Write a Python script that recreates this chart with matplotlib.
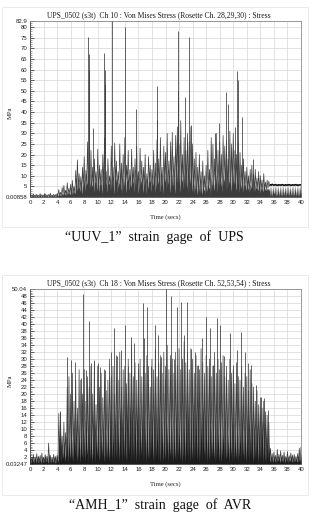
import numpy as np
import matplotlib
matplotlib.use("Agg")
import matplotlib.pyplot as plt
from matplotlib.patches import Rectangle

# ---------------- data: top chart (UUV_1, Ch 10) ----------------
top_title = "UPS_0502 (s3t)  Ch 10 : Von Mises Stress (Rosette Ch. 28,29,30) : Stress"
top_caption = "\u201cUUV_1\u201d  strain  gage  of  UPS"
top_ymin, top_ymax = 0.00858, 82.9
top_yticks = [0.00858, 5, 10, 15, 20, 25, 30, 35, 40, 45, 50, 55, 60, 65, 70, 75, 80, 82.9]
top_yticklabels = ["0.00858", "5", "10", "15", "20", "25", "30", "35", "40", "45",
                   "50", "55", "60", "65", "70", "75", "80", "82.9"]

# signal peaks every 0.25 s (0 .. 40)
top_peaks = [
    1.2, 0.9, 1.5, 1.0, 1.3, 0.8, 1.6, 1.1, 0.9, 1.4, 1.0, 1.2, 1.8, 0.9, 1.3, 1.1,
    1.6, 3.5, 2.2, 4.5,
    5.5, 3.2, 6.8, 4.2,
    6.0, 7.8, 5.0, 12.5,
    17.5, 11.0, 9.5, 14.0,
    19.0, 12.5, 26.0, 16.0,
    22.0, 14.0, 18.0, 12.0,
    22.5, 15.0, 13.0, 20.0,
    28.0, 12.0, 18.0, 10.0,
    24.0, 14.0, 25.5, 17.0,
    12.0, 25.0, 16.0, 20.0,
    28.0, 15.0, 22.0, 13.0,
    22.5, 14.0, 18.0, 24.0,
    12.0, 23.0, 17.0, 14.0,
    20.0, 11.0, 19.0, 15.0,
    13.0, 22.0, 16.0, 27.0,
    18.0, 28.0, 14.0, 24.0,
    21.0, 30.0, 17.0, 26.0,
    30.5, 19.0, 29.0, 33.0,
    25.0, 36.0, 20.0, 28.0,
    22.0, 30.0, 26.0, 33.0,
    25.0, 18.0, 21.0, 14.0,
    20.0, 12.0, 17.0, 10.0,
    15.0, 22.0, 13.0, 28.0,
    25.0, 18.0, 30.0, 22.0,
    26.0, 20.0, 29.0, 24.0,
    27.0, 18.0, 31.0, 25.0,
    30.0, 22.0, 20.0, 26.0,
    21.0, 15.0, 18.0, 12.0,
    14.0, 10.0, 13.0, 15.0,
    11.0, 13.0, 9.0, 12.0,
    10.0, 8.0, 11.0, 7.0,
    8.0, 7.5, 6.0, 6.2,
    5.9, 6.1, 5.8, 6.0, 5.9, 6.1, 5.8, 6.0, 5.9, 6.1, 5.8, 6.0, 5.9, 6.1, 5.8, 6.0,
    6.0,
]
# signal troughs between the peaks (0.125 .. 39.875)
top_troughs = [
    0.3, 0.5, 0.2, 0.4, 0.3, 0.5, 0.2, 0.4, 0.3, 0.5, 0.2, 0.4, 0.3, 0.5, 0.2, 0.4,
    0.5, 0.8, 0.6, 1.0,
    1.2, 0.8, 1.5, 1.0,
    1.0, 2.0, 1.5, 3.0,
    4.0, 2.5, 1.5, 5.0,
    3.0, 6.0, 2.0, 4.5,
    5.0, 2.0, 7.0, 3.0,
    2.5, 6.0, 1.5, 4.0,
    5.5, 2.0, 6.5, 3.0,
    4.0, 1.5, 7.0, 2.5,
    6.0, 3.0, 1.5, 5.0,
    2.0, 7.5, 3.0, 4.5,
    6.0, 2.0, 5.0, 1.5,
    3.5, 6.5, 2.0, 5.0,
    1.5, 4.0, 7.0, 2.5,
    5.5, 2.0, 4.0, 6.0,
    2.5, 5.0, 1.5, 7.0,
    3.0, 6.0, 2.0, 4.5,
    5.0, 1.5, 6.5, 3.0,
    2.0, 7.0, 3.5, 5.0,
    4.0, 1.5, 6.0, 2.5,
    1.5, 3.0, 1.0, 2.5,
    2.0, 1.0, 3.0, 1.5,
    2.5, 4.0, 1.5, 5.0,
    3.0, 6.0, 2.0, 4.5,
    5.0, 2.5, 7.0, 3.0,
    4.0, 6.5, 2.5, 5.5,
    6.0, 3.0, 5.0, 2.0,
    4.0, 2.5, 5.0, 3.0,
    3.5, 2.0, 4.0, 3.0,
    2.5, 4.0, 3.0, 2.0,
    3.5, 2.5, 4.0, 3.0,
    4.0, 5.0, 5.3, 5.5,
    5.5, 5.4, 5.6, 5.5, 5.4, 5.6, 5.5, 5.4, 5.5, 5.6, 5.4, 5.5, 5.6, 5.4, 5.5, 5.5,
]
# top of the dense dark mass, every 0.25 s
top_mass = [
    0.9, 0.7, 1.0, 0.8, 0.9, 0.7, 1.1, 0.8, 0.9, 1.0, 0.8, 0.9, 1.1, 0.8, 0.9, 1.0,
    1.0, 1.5, 1.2, 2.0,
    2.5, 1.8, 3.0, 2.2,
    3.0, 4.0, 2.5, 6.0,
    8.0, 5.0, 9.0, 6.0,
    9.0, 7.0, 11.0, 8.0,
    10.0, 6.0, 9.0, 7.0,
    11.0, 8.0, 6.0, 10.0,
    12.0, 7.0, 9.0, 6.0,
    10.0, 8.0, 12.0, 9.0,
    7.0, 11.0, 8.0, 10.0,
    12.0, 8.0, 10.0, 7.0,
    11.0, 8.0, 9.0, 12.0,
    7.0, 10.0, 9.0, 8.0,
    10.0, 7.0, 9.0, 8.0,
    8.0, 11.0, 9.0, 12.0,
    9.0, 12.0, 8.0, 11.0,
    10.0, 13.0, 9.0, 12.0,
    12.0, 9.0, 13.0, 14.0,
    11.0, 14.0, 9.0, 12.0,
    10.0, 12.0, 11.0, 13.0,
    10.0, 7.0, 8.0, 6.0,
    7.0, 5.0, 6.0, 4.0,
    6.0, 8.0, 5.0, 10.0,
    9.0, 7.0, 11.0, 9.0,
    10.0, 8.0, 12.0, 10.0,
    11.0, 8.0, 12.0, 10.0,
    12.0, 9.0, 10.0, 11.0,
    9.0, 7.0, 8.0, 6.0,
    7.0, 5.0, 6.0, 7.0,
    5.0, 6.0, 4.5, 5.5,
    5.0, 4.0, 5.5, 3.5,
    4.0, 3.0, 0.3, 0.3,
    0.3, 0.3, 0.3, 0.3, 0.3, 0.3, 0.3, 0.3, 0.3, 0.3, 0.3, 0.3, 0.3, 0.3, 0.3, 0.3,
    0.3,
]
# tall isolated spikes (time s, MPa)
top_spike_t = [8.6, 8.65, 8.7, 9.35, 10.95, 11.0, 11.05, 12.15, 14.07, 15.7, 18.75, 18.8,
               21.85, 21.9, 22.88, 23.4, 23.7, 27.3, 27.9, 28.9, 29.2, 30.2, 30.6, 30.65,
               31.3, 32.9]
top_spike_v = [75.5, 67.5, 60.0, 32.5, 68.0, 60.0, 53.0, 82.9, 80.0, 41.5, 52.5, 36.5,
               78.0, 50.0, 47.0, 75.5, 34.0, 30.0, 35.0, 49.5, 44.0, 33.0, 59.5, 55.0,
               37.8, 18.0]

# ---------------- data: bottom chart (AMH_1, Ch 18) ----------------
bot_title = "UPS_0502 (s3t)  Ch 18 : Von Mises Stress (Rosette Ch. 52,53,54) : Stress"
bot_caption = "\u201cAMH_1\u201d  strain  gage  of  AVR"
bot_ymin, bot_ymax = 0.03247, 50.04
bot_yticks = [0.03247] + list(range(2, 50, 2)) + [50.04]
bot_yticklabels = ["0.03247"] + [str(v) for v in range(2, 50, 2)] + ["50.04"]

bot_peaks = [
    2.5, 1.8, 2.8, 2.0, 3.0, 2.2, 2.5, 3.2, 2.0, 2.7, 2.3, 6.0, 2.5, 2.0, 2.8, 2.2,
    2.5, 14.5, 15.0, 8.0,
    12.0, 9.0, 22.0, 25.0,
    20.0, 26.0, 18.0, 24.0,
    16.0, 27.0, 24.0, 20.0,
    27.0, 18.0, 25.0, 22.0,
    28.0, 20.0, 29.0, 17.0,
    28.0, 22.0, 26.0, 19.0,
    27.0, 21.0, 24.0, 30.0,
    25.0, 28.0, 20.0, 31.0,
    24.0, 32.0, 22.0, 27.0,
    28.0, 23.0, 30.0, 26.0,
    34.0, 25.0, 29.0, 24.0,
    27.0, 30.0, 25.0, 28.0,
    26.0, 31.0, 28.0, 22.0,
    30.0, 27.0, 33.0, 25.0,
    29.0, 31.0, 26.0, 32.0,
    28.0, 34.0, 27.0, 31.0,
    30.0, 26.0, 32.0, 28.0,
    33.0, 27.0, 30.0, 35.0,
    29.0, 32.0, 27.0, 33.0,
    30.0, 26.0, 31.0, 28.0,
    27.0, 33.0, 29.0, 26.0,
    31.0, 28.0, 30.0, 25.0,
    28.0, 32.0, 26.0, 30.0,
    27.0, 29.0, 31.0, 25.0,
    28.0, 24.0, 30.0, 26.0,
    27.0, 23.0, 29.0, 25.0,
    24.0, 28.0, 22.0, 26.0,
    25.0, 21.0, 27.0, 23.0,
    22.0, 18.0, 21.0, 17.0,
    19.0, 16.0, 18.0, 15.0,
    14.0, 12.0, 4.5, 3.0,
    3.5, 2.5, 4.2, 2.8, 3.8, 2.5, 3.5, 2.2, 3.6, 2.4, 3.2, 2.6, 2.8, 2.2, 3.0, 4.5,
    4.8,
]
bot_troughs = [
    0.3, 0.5, 0.2, 0.4, 0.3, 0.5, 0.2, 0.4, 0.3, 0.5, 0.2, 0.4, 0.3, 0.5, 0.2, 0.4,
    0.5, 1.0, 0.6, 1.5,
    0.8, 2.0, 0.5, 1.5,
    1.0, 0.5, 2.5, 0.8,
    1.5, 0.4, 2.0, 0.6,
    0.8, 2.5, 0.5, 1.2,
    0.6, 1.8, 0.4, 2.2,
    1.0, 0.5, 2.0, 0.7,
    0.5, 1.5, 0.8, 2.5,
    1.2, 0.4, 1.8, 0.6,
    0.8, 2.2, 0.5, 1.5,
    0.6, 1.0, 2.5, 0.4,
    1.5, 0.7, 0.5, 2.0,
    0.9, 2.4, 0.6, 1.2,
    0.5, 1.6, 0.8, 2.6,
    1.1, 0.5, 1.9, 0.7,
    0.6, 2.1, 0.4, 1.3,
    1.8, 0.6, 2.4, 0.9,
    0.5, 1.4, 0.7, 2.2,
    1.0, 0.4, 1.7, 0.6,
    2.3, 0.8, 0.5, 1.5,
    0.7, 2.0, 1.1, 0.5,
    1.6, 0.6, 2.5, 0.9,
    0.5, 1.2, 0.7, 2.1,
    1.4, 0.5, 1.9, 0.8,
    0.6, 2.2, 0.9, 1.3,
    1.7, 0.5, 2.4, 0.7,
    0.9, 1.5, 0.5, 2.0,
    0.6, 2.3, 1.0, 0.5,
    1.8, 0.7, 1.2, 0.5,
    0.8, 1.6, 0.6, 1.1,
    1.0, 0.5, 0.8, 0.6,
    0.8, 0.6, 0.5, 0.4,
    0.7, 0.4, 0.9, 0.5, 0.8, 0.6, 0.4, 0.7, 0.5, 0.9, 0.6, 0.4, 0.8, 0.5, 0.7, 0.6,
]
bot_mass = [
    1.8, 2.2, 1.5, 2.4, 1.9, 2.3, 1.6, 2.1, 2.0, 2.5, 1.7, 3.5, 2.0, 1.6, 2.2, 1.8,
    2.0, 8.0, 9.0, 6.0,
    7.0, 5.5, 9.0, 8.0,
    10.0, 7.5, 11.0, 9.0,
    8.0, 12.0, 9.5, 11.0,
    10.0, 13.0, 9.0, 12.0,
    11.0, 8.5, 12.5, 10.0,
    13.0, 9.0, 11.5, 10.0,
    12.0, 9.5, 13.0, 11.0,
    14.0, 10.5, 12.0, 15.0,
    12.5, 16.0, 13.0, 17.0,
    15.0, 18.0, 14.0, 17.5,
    16.0, 13.0, 17.0, 14.5,
    13.0, 15.5, 12.0, 14.0,
    12.5, 14.5, 11.0, 13.5,
    15.0, 12.0, 14.0, 13.0,
    11.5, 14.0, 12.5, 13.5,
    14.5, 12.0, 13.0, 11.0,
    12.0, 10.5, 13.5, 11.5,
    13.0, 11.0, 14.5, 12.0,
    15.0, 13.0, 16.5, 14.0,
    17.5, 15.0, 16.0, 18.0,
    15.5, 14.0, 16.5, 13.0,
    14.0, 12.0, 13.5, 11.5,
    12.5, 10.0, 13.0, 11.0,
    12.0, 9.5, 11.5, 10.0,
    11.0, 9.0, 12.5, 10.5,
    12.0, 10.0, 11.0, 9.5,
    10.5, 12.0, 9.0, 11.0,
    10.0, 12.5, 11.0, 13.0,
    11.5, 9.5, 12.0, 10.0,
    11.0, 13.0, 12.0, 10.5,
    9.0, 6.0, 2.5, 2.2,
    2.4, 1.8, 2.6, 2.0, 2.3, 1.7, 2.5, 1.9, 2.2, 1.6, 2.4, 1.8, 2.0, 1.7, 2.3, 2.6,
    3.0,
]
bot_spike_t = [4.38, 4.45, 5.5, 6.0, 6.6, 7.6, 7.77, 8.2, 8.66, 9.05, 9.45, 10.0, 10.4,
               11.1, 11.9, 12.4, 12.9, 13.5, 14.0, 14.4, 14.85, 15.3, 15.9, 16.7, 16.9,
               17.2, 17.8, 18.4, 18.9, 19.4, 20.1, 20.75, 21.3, 21.7, 22.3, 22.8, 23.2,
               23.8, 24.3, 24.8, 25.4, 26.0, 26.5, 27.0, 27.6, 28.1, 28.7, 29.5, 30.0,
               30.6, 31.2, 31.7, 32.2, 32.6, 33.4, 34.1, 34.6, 35.1]
bot_spike_v = [14.5, 15.0, 30.7, 29.7, 29.3, 24.5, 48.5, 27.0, 41.0, 29.0, 29.7, 28.8, 27.8,
               27.0, 32.0, 38.8, 31.0, 32.6, 39.7, 28.0, 36.4, 34.5, 29.0, 46.0, 36.0,
               45.0, 28.0, 39.7, 36.9, 30.7, 50.0, 47.9, 30.0, 45.0, 46.4, 37.0, 46.4,
               33.0, 32.0, 28.3, 36.0, 42.0, 38.8, 28.3, 41.7, 39.7, 31.0, 37.4, 28.3,
               32.6, 37.8, 32.0, 28.8, 28.3, 22.6, 19.3, 18.8, 15.4]

xticks = list(range(0, 41, 2))

# ---------------- figure ----------------
W, H = 323, 520
fig = plt.figure(figsize=(W / 100, H / 100), dpi=100)
fig.patch.set_facecolor("white")

SANS = ["Liberation Sans", "DejaVu Sans"]
SERIF = ["Liberation Serif", "DejaVu Serif"]


def px_axes(left, top, right, bottom):
    return fig.add_axes([left / W, 1 - bottom / H, (right - left) / W, (bottom - top) / H])


def interleave(a, b):
    n = min(len(a), len(b) + 1)
    out = np.empty(2 * n - 1)
    out[0::2] = np.asarray(a, float)[:n]
    out[1::2] = np.asarray(b, float)[:n - 1]
    return out


def draw_panel(ax, peaks, troughs, mass, spike_t, spike_v, ymin, ymax,
               yticks, yticklabels, title, mass_color, minor_y):
    t_p = np.arange(len(peaks)) * 0.25
    t_tr = np.arange(len(troughs)) * 0.25 + 0.125
    t_all = interleave(t_p, t_tr)
    v_all = interleave(peaks, troughs)
    m_all = interleave(mass, troughs)
    m_all = np.maximum(m_all, ymin)

    ax.set_xlim(0, 40)
    ax.set_ylim(ymin, ymax)
    ax.grid(True, which="major", color="#d6d6d6", linewidth=0.5)
    ax.set_axisbelow(True)
    ax.vlines(spike_t, ymin, spike_v, color="#3a3a3a", linewidth=0.55, zorder=3)
    ax.plot(t_all, v_all, color="#404040", linewidth=0.5, zorder=3)
    ax.fill_between(t_all, ymin, m_all, color=mass_color, linewidth=0, zorder=4)

    ax.set_xticks(xticks)
    ax.set_xticklabels([str(x) for x in xticks], fontsize=4.3, family=SANS)
    ax.set_xticks(np.arange(0, 40.01, 0.5), minor=True)
    ax.set_yticks(yticks)
    ax.set_yticklabels(yticklabels, fontsize=4.3, family=SANS)
    ax.set_yticks(np.arange(np.ceil(ymin), ymax, minor_y), minor=True)
    ax.tick_params(which="major", direction="in", length=3, width=0.5, pad=2, colors="#222222")
    ax.tick_params(which="minor", direction="in", length=1.5, width=0.4, color="#555555")
    for s in ax.spines.values():
        s.set_color("#8a8a8a")
        s.set_linewidth(0.6)
    ax.spines["left"].set_color("#444444")
    ax.set_title(title, fontsize=5.5, family=SERIF, pad=2.5, color="#1a1a1a", x=0.476)
    ax.set_xlabel("Time (secs)", fontsize=4.8, family=SERIF, labelpad=7, color="#222222")


ax1 = px_axes(30, 21, 301, 197)
draw_panel(ax1, top_peaks, top_troughs, top_mass, top_spike_t, top_spike_v,
           top_ymin, top_ymax, top_yticks, top_yticklabels, top_title, "#3c3c3c", 1)
# steady tail after the run (thick dark line)
tail = np.arange(len(top_peaks)) * 0.25 >= 35.5
ax1.plot(np.arange(len(top_peaks))[tail] * 0.25, np.array(top_peaks)[tail] - 0.3,
         color="#111111", linewidth=1.1, zorder=5)

ax2 = px_axes(30, 289, 301, 464)
draw_panel(ax2, bot_peaks, bot_troughs, bot_mass, bot_spike_t, bot_spike_v,
           bot_ymin, bot_ymax, bot_yticks, bot_yticklabels, bot_title, "#1c1c1c", 0.5)

fig.text(10 / W, 1 - 113 / H, "MPa", rotation=90, ha="center", va="center",
         fontsize=4.8, family=SERIF, color="#222222")
fig.text(10 / W, 1 - 381 / H, "MPa", rotation=90, ha="center", va="center",
         fontsize=4.8, family=SERIF, color="#222222")

# faint frames around each chart picture
for (x0, y0, x1, y1) in [(2, 7, 308, 227), (2, 275, 308, 495)]:
    fig.patches.append(Rectangle((x0 / W, 1 - y1 / H), (x1 - x0) / W, (y1 - y0) / H,
                                 transform=fig.transFigure, fill=False,
                                 edgecolor="#e8e8e8", linewidth=0.6))

fig.text(154 / W, 1 - 237 / H, top_caption, ha="center", va="center",
         fontsize=10, family=SERIF, color="#111111")
fig.text(160 / W, 1 - 505 / H, bot_caption, ha="center", va="center",
         fontsize=10, family=SERIF, color="#111111")

fig.savefig("out.png", dpi=100, facecolor="white")
